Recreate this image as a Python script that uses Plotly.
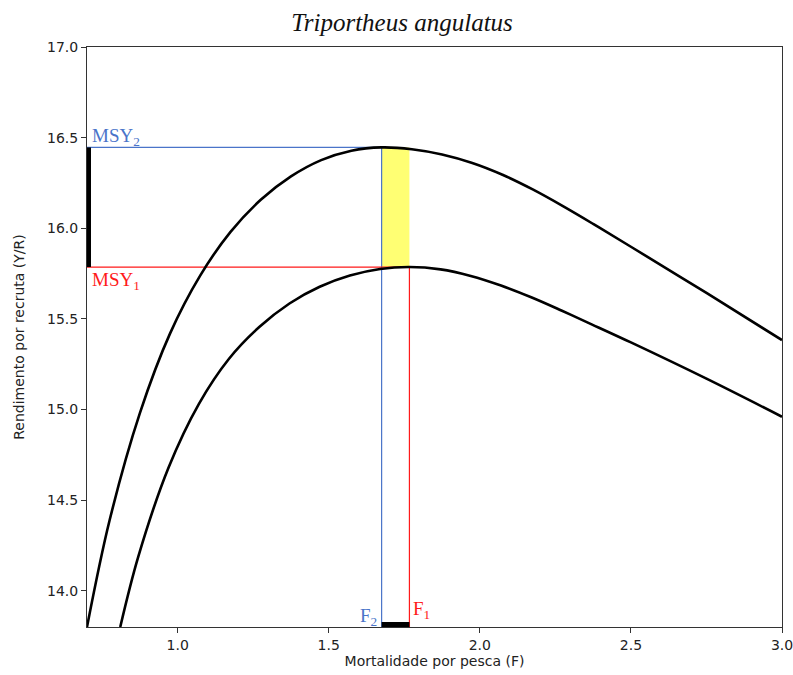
import plotly.graph_objects as go

# ---- data ----
F_upper = [0.70, 0.775, 0.875, 0.975, 1.075, 1.175, 1.275, 1.375, 1.475, 1.575,
           1.675, 1.775, 1.875, 1.975, 2.075, 2.175, 2.275, 2.375, 2.5, 2.75, 3.0]
Y_upper = [13.80, 14.39, 14.98, 15.42, 15.74, 15.98, 16.157, 16.286, 16.376, 16.428,
           16.446, 16.436, 16.407, 16.36, 16.295, 16.214, 16.122, 16.024, 15.898, 15.643, 15.383]

F_lower = [0.81, 0.87, 0.97, 1.07, 1.17, 1.27, 1.37, 1.47, 1.57, 1.67, 1.767,
           1.87, 1.97, 2.07, 2.17, 2.27, 2.37, 2.5, 2.75, 3.0]
Y_lower = [13.80, 14.19, 14.68, 15.03, 15.28, 15.455, 15.585, 15.677, 15.739, 15.775, 15.786,
           15.773, 15.737, 15.684, 15.619, 15.546, 15.47, 15.37, 15.17, 14.96]

MSY1, MSY2 = 15.786, 16.446
F1, F2 = 1.767, 1.675

x_range = [0.7, 3.0]
y_range = [13.8, 17.0]
x_ticks = [1.0, 1.5, 2.0, 2.5, 3.0]
y_ticks = [14.0, 14.5, 15.0, 15.5, 16.0, 16.5, 17.0]

BLUE = "#4a74c9"
RED = "#ff1a1a"
SERIF = "Liberation Serif, Times New Roman, serif"
SANS = "DejaVu Sans, sans-serif"

fig = go.Figure()

# yellow band between F2 and F1, MSY1..MSY2
fig.add_shape(type="rect", xref="x", yref="y", x0=F2, x1=F1, y0=MSY1, y1=MSY2,
              fillcolor="rgba(255,255,0,0.55)", line_width=0, layer="below")

# reference lines
fig.add_trace(go.Scatter(x=[x_range[0], F2, F2], y=[MSY2, MSY2, y_range[0]],
                         mode="lines", line=dict(color=BLUE, width=1.2),
                         hoverinfo="skip", showlegend=False))
fig.add_trace(go.Scatter(x=[x_range[0], F1, F1], y=[MSY1, MSY1, y_range[0]],
                         mode="lines", line=dict(color=RED, width=1.2),
                         hoverinfo="skip", showlegend=False))

# curves
fig.add_trace(go.Scatter(x=F_upper, y=Y_upper, mode="lines",
                         line=dict(color="black", width=2.6, shape="spline", smoothing=1.0),
                         showlegend=False))
fig.add_trace(go.Scatter(x=F_lower, y=Y_lower, mode="lines",
                         line=dict(color="black", width=2.6, shape="spline", smoothing=1.0),
                         showlegend=False))

# thick black bars on the axes
fig.add_shape(type="rect", xref="x", yref="y", xsizemode="pixel", xanchor=x_range[0],
              x0=-1, x1=4, y0=MSY1, y1=MSY2, fillcolor="black", line_width=0, layer="above")
fig.add_shape(type="rect", xref="x", yref="y", ysizemode="pixel", yanchor=y_range[0],
              y0=0, y1=5, x0=F2, x1=F1, fillcolor="black", line_width=0, layer="above")

# labels
fig.add_annotation(x=x_range[0], y=MSY2, text="MSY<sub>2</sub>", showarrow=False,
                   xanchor="left", yanchor="bottom", xshift=3, yshift=-4,
                   font=dict(family=SERIF, size=19, color=BLUE))
fig.add_annotation(x=x_range[0], y=MSY1, text="MSY<sub>1</sub>", showarrow=False,
                   xanchor="left", yanchor="top", xshift=3, yshift=0,
                   font=dict(family=SERIF, size=19, color=RED))
fig.add_annotation(x=F2, y=y_range[0], text="F<sub>2</sub>", showarrow=False,
                   xanchor="right", yanchor="bottom", xshift=-3, yshift=-4,
                   font=dict(family=SERIF, size=19, color=BLUE))
fig.add_annotation(x=F1, y=y_range[0], text="F<sub>1</sub>", showarrow=False,
                   xanchor="left", yanchor="bottom", xshift=2, yshift=3,
                   font=dict(family=SERIF, size=19, color=RED))

axis_common = dict(showgrid=False, zeroline=False, showline=True, linecolor="#333",
                   linewidth=1, mirror=True, ticks="outside", ticklen=5,
                   tickcolor="#333", automargin=False, ticklabeloverflow="allow",
                   tickfont=dict(family=SANS, size=14, color="#222"))

fig.update_xaxes(range=x_range, tickvals=x_ticks, tickformat=".1f",
                 title=dict(text="Mortalidade por pesca (F)", standoff=4,
                            font=dict(family=SANS, size=14, color="#222")),
                 **axis_common)
fig.update_yaxes(range=y_range, tickvals=y_ticks, tickformat=".1f",
                 title=dict(text="Rendimento por recruta (Y/R)", standoff=19,
                            font=dict(family=SANS, size=14, color="#222")),
                 **axis_common)

fig.update_layout(
    width=793, height=675,
    margin=dict(l=87, r=11, t=47, b=48),
    paper_bgcolor="white", plot_bgcolor="white",
    title=dict(text="<i>Triportheus angulatus</i>", x=0.507, xanchor="center",
               y=0.967, yanchor="middle",
               font=dict(family=SERIF, size=25, color="#111")),
)

fig.write_html("out.html")
